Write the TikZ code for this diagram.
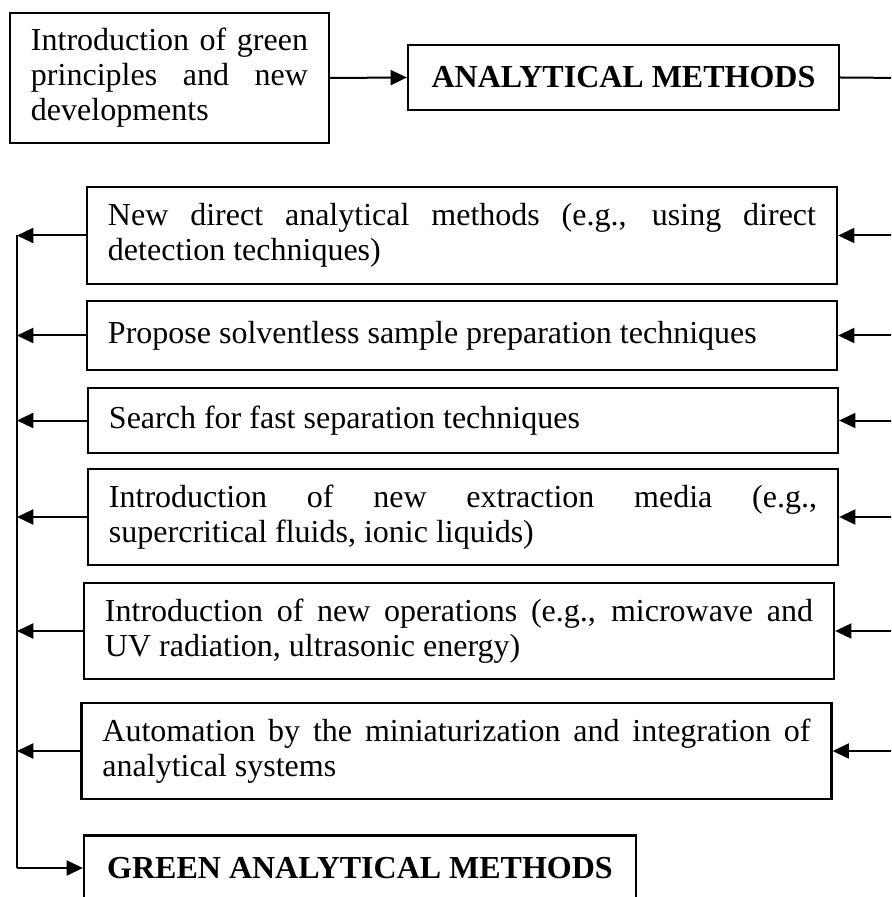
\documentclass[tikz,border=0pt]{standalone}
\usepackage{fontspec}
\setmainfont{Liberation Serif}
\usetikzlibrary{arrows.meta}

\begin{document}
\begin{tikzpicture}
  [x=0.4pt,y=-0.4pt,
   box/.style={draw,line width=0.9pt,inner xsep=8.4pt,inner ysep=0pt,
     align=justify,font=\fontsize{12.8}{14}\selectfont},
   item/.style={box,text width=283.2pt},
   head/.style={box,align=center,font=\fontsize{12.8}{14}\selectfont\bfseries,
     minimum height=26pt},
   arr/.style={-{Triangle[length=6.5pt,width=6pt]},line width=0.8pt}]
  \path[use as bounding box,clip] (0,0) rectangle (891,897);
  \node[box,text width=110.8pt,minimum height=52pt] (intro) at (169.5,78)
    {Introduction of green\linebreak principles and new\linebreak developments};
  \node[head,minimum width=172.4pt] (am) at (623.5,77.5) {ANALYTICAL METHODS};
  \node[item,minimum height=38.8pt] (b1) at (462,235.5)
    {New direct analytical methods (e.g., using direct\linebreak detection techniques)};
  \node[item,minimum height=27.6pt] (b2) at (462,335.5)
    {Propose solventless sample preparation techniques};
  \node[item,minimum height=26pt] (b3) at (463,420.5)
    {Search for fast separation techniques};
  \node[item,minimum height=38.4pt] (b4) at (463,517)
    {Introduction of new extraction media (e.g.,\linebreak supercritical fluids, ionic liquids)};
  \node[item,minimum height=38.4pt] (b5) at (459,631)
    {Introduction of new operations (e.g., microwave and\linebreak UV radiation, ultrasonic energy)};
  \node[item,minimum height=38.4pt] (b6) at (456.5,751)
    {Automation by the miniaturization and integration of\linebreak analytical systems};
  \node[head,minimum width=220.8pt] (gam) at (360,868) {GREEN ANALYTICAL METHODS};
  \coordinate (rs) at (905,78);
  \coordinate (ls) at (17,0);
  \draw[arr] (intro.east) -- (am.west);
  \draw[line width=0.8pt] (am.east) -- (rs) -- (rs |- b6.east);
  \draw[line width=0.8pt] (ls |- b1.west) -- (ls |- gam.west);
  \foreach \b in {b1,b2,b3,b4,b5,b6}
  {
    \draw[arr] (rs |- \b.east) -- (\b.east);
    \draw[arr] (\b.west) -- (ls |- \b.west);
  }
  \draw[arr] (ls |- gam.west) -- (gam.west);
\end{tikzpicture}
\end{document}
